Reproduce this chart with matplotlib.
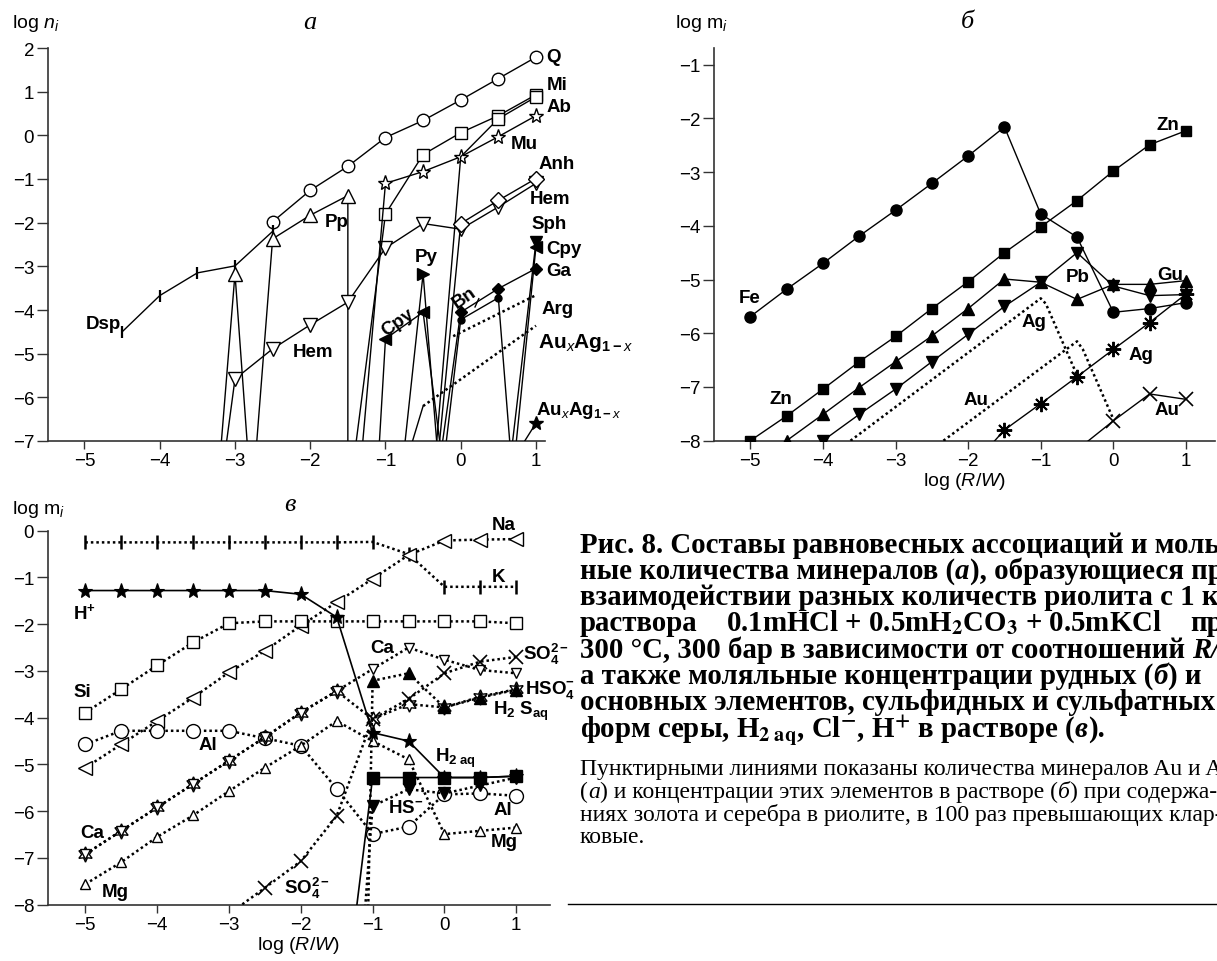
import matplotlib
matplotlib.use('Agg')
import matplotlib.pyplot as plt
from matplotlib.lines import Line2D

plt.rcParams['font.family'] = ['Liberation Sans', 'DejaVu Sans']
plt.rcParams['mathtext.fontset'] = 'custom'
plt.rcParams['mathtext.rm'] = 'Liberation Sans'
plt.rcParams['mathtext.it'] = 'Liberation Sans:italic'
plt.rcParams['mathtext.bf'] = 'Liberation Sans:bold'

# ---------------- panel a data: log n_i ----------------
A_Q_x = [-2.5, -2, -1.5, -1, -0.5, 0, 0.5, 1]
A_Q_y = [-1.98, -1.26, -0.71, -0.05, 0.34, 0.81, 1.30, 1.79]
A_Dsp_x = [-4.5, -4, -3.5, -3, -2.5]
A_Dsp_y = [-4.5, -3.67, -3.15, -2.99, -2.2]
A_Pp1_x = [-3.5, -3, -2.5]
A_Pp1_y = [-13.8, -3.17, -15.1]
A_Pp2_x = [-3, -2.5, -2, -1.5, -1.5]
A_Pp2_y = [-13.4, -2.37, -1.83, -1.38, -9.0]
A_Hem_x = [-3.5, -3, -2.5, -2, -1.5, -1, -0.5, 0, 0.5, 1]
A_Hem_y = [-12.0, -5.58, -4.89, -4.34, -3.82, -2.58, -2.02, -2.15, -1.64, -1.10]
A_Mi_x = [-1.5, -1, -0.5, 0, 0.5, 1]
A_Mi_y = [-8.5, -1.8, -0.44, 0.06, 0.45, 0.93]
A_Mu_x = [-1.5, -1, -0.5, 0, 0.5, 1]
A_Mu_y = [-10.9, -1.1, -0.83, -0.49, -0.03, 0.45]
A_Ab_x = [-0.5, 0, 0.5, 1]
A_Ab_y = [-10.7, -0.49, 0.38, 0.88]
A_Anh_x = [-0.5, 0, 0.5, 1]
A_Anh_y = [-10.9, -2.02, -1.49, -0.99]
A_Py_x = [-1, -0.5, 0]
A_Py_y = [-11.2, -3.17, -13.8]
A_Cpy_x = [-1.5, -1, -0.5, 0]
A_Cpy_y = [-19.3, -4.66, -4.05, -10.75]
A_Cpy2_x = [0.5, 1]
A_Cpy2_y = [-11.1, -2.55]
A_Sph_x = [0.5, 1]
A_Sph_y = [-9.8, -2.44]
A_Ga_x = [-0.5, 0, 0.5, 1]
A_Ga_y = [-10.2, -4.05, -3.51, -3.05]
A_Bn_x = [-0.5, 0, 0.5, 1]
A_Bn_y = [-11.5, -4.22, -3.72, -14.6]
A_Arg_x = [-0.1, 1.0]
A_Arg_y = [-4.6, -3.66]
A_AuAg_x = [-1, -0.5, 1]
A_AuAg_y = [-9.05, -6.2, -4.36]
A_AuAg2_x = [0.5, 1]
A_AuAg2_y = [-7.96, -6.59]

# ---------------- panel b data: log m_i (ore elements) ----------------
B_x = [-5, -4.5, -4, -3.5, -3, -2.5, -2, -1.5, -1, -0.5, 0, 0.5, 1]
B_Fe = [-5.69, -5.18, -4.70, -4.19, -3.71, -3.21, -2.70, -2.16, -3.78, -4.21, -5.61, -5.54, -5.43]
B_Zn = [-8.0, -7.54, -7.04, -6.53, -6.06, -5.54, -5.04, -4.50, -4.02, -3.53, -2.98, -2.49, -2.23]
B_Cu_x = [-4.5, -4, -3.5, -3, -2.5, -2, -1.5, -1, -0.5, 0, 0.5, 1]
B_Cu = [-8.0, -7.51, -7.01, -6.53, -6.05, -5.54, -4.99, -5.05, -5.37, -5.09, -5.09, -5.02]
B_Pb_x = [-4, -3.5, -3, -2.5, -2, -1.5, -1, -0.5, 0, 0.5, 1]
B_Pb = [-8.0, -7.51, -7.04, -6.53, -6.02, -5.50, -5.05, -4.50, -5.12, -5.30, -5.28]
B_Ag_x = [-2, -1.5, -1, -0.5, 0, 0.5, 1]
B_Ag = [-8.55, -7.80, -7.31, -6.81, -6.30, -5.80, -5.27]
B_Au_x = [-0.5, 0, 0.5, 1]
B_Au = [-8.17, -7.63, -7.13, -7.23]
B_Agd_x = [-3.62, -1.0, -0.93, -0.5]
B_Agd = [-8.0, -5.35, -5.45, -6.78]
B_Aud_x = [-2.34, -0.5, -0.42, 0]
B_Aud = [-8.0, -6.15, -6.3, -7.6]

# ---------------- panel c data: log m_i (solution) ----------------
C_x = [-5, -4.5, -4, -3.5, -3, -2.5, -2, -1.5, -1, -0.5, 0, 0.5, 1]
C_K = [-0.25, -0.25, -0.25, -0.25, -0.25, -0.25, -0.25, -0.25, -0.24, -0.50, -1.20, -1.20, -1.20]
C_Na = [-5.07, -4.57, -4.07, -3.57, -3.03, -2.57, -2.03, -1.53, -1.03, -0.52, -0.21, -0.19, -0.18]
C_Hp = [-1.28, -1.28, -1.28, -1.28, -1.28, -1.28, -1.36, -1.85, -4.32, -4.50, -5.28, -5.28, -5.25]
C_Si = [-3.89, -3.39, -2.88, -2.39, -1.98, -1.94, -1.94, -1.94, -1.94, -1.94, -1.94, -1.94, -1.98]
C_Al = [-4.57, -4.28, -4.28, -4.28, -4.28, -4.44, -4.60, -5.52, -6.49, -6.33, -5.64, -5.62, -5.67]
C_Ca = [-6.92, -6.42, -5.92, -5.42, -4.92, -4.42, -3.89, -3.43, -2.96, -2.50, -2.76, -2.98, -3.05]
C_HSO4 = [-6.92, -6.42, -5.92, -5.42, -4.92, -4.42, -3.89, -3.43, -4.03, -3.71, -3.78, -3.55, -3.39]
C_Mg = [-7.56, -7.09, -6.55, -6.09, -5.57, -5.07, -4.60, -4.07, -4.50, -4.89, -6.49, -6.42, -6.35]
C_SO4_x = [-3, -2.5, -2, -1.5, -1, -0.5, 0, 0.5, 1]
C_SO4 = [-8.2, -7.64, -7.07, -6.10, -4.03, -3.60, -3.05, -2.80, -2.70]
C_H2S_x = [-1.5, -1, -0.5, 0, 0.5, 1]
C_H2S = [-43.0, -3.21, -3.05, -3.78, -3.57, -3.40]
C_HS_x = [-1.5, -1, -0.5, 0, 0.5, 1]
C_HS = [-16.4, -5.89, -5.53, -5.62, -5.45, -5.28]
C_H2_x = [-1.5, -1, -0.5, 0, 0.5, 1]
C_H2 = [-11.5, -5.28, -5.28, -5.28, -5.28, -5.25]

X_TICKS = [-5, -4, -3, -2, -1, 0, 1]

W, H = 1217, 962
fig = plt.figure(figsize=(W / 100, H / 100), dpi=100)


def px_axes(l, t, r, b):
    return fig.add_axes([l / W, 1 - b / H, (r - l) / W, (b - t) / H])


def style(ax, xlim, ylim, yticks):
    ax.set_xlim(*xlim)
    ax.set_ylim(*ylim)
    for s in ('top', 'right'):
        ax.spines[s].set_visible(False)
    for s in ('left', 'bottom'):
        ax.spines[s].set_color('#333333')
        ax.spines[s].set_linewidth(1.2)
    ax.set_xticks(X_TICKS)
    ax.set_yticks(yticks)
    ax.tick_params(axis='both', direction='out', width=1.0, color='#333333',
                   labelsize=13.5, pad=2)
    ax.tick_params(axis='y', length=8)
    ax.tick_params(axis='x', length=6)
    ax.patch.set_alpha(0)


DOT = (0, (1, 1.2))


def S(ax, x, y, m=None, fc='black', ms=8, ls='-', lw=1.0, me=None, mew=1.0, z=3):
    ax.plot(x, y, linestyle=ls, color='black', lw=lw, marker=m, ms=ms, mfc=fc,
            mec='black', mew=mew, markevery=me, zorder=z)


def lab(ax, x, y, s, size=13.5, rot=0, ha='left'):
    ax.text(x, y, s, fontsize=size, fontweight='bold', ha=ha, va='center',
            rotation=rot, rotation_mode='anchor', clip_on=False, zorder=6)


# ================= panel a =================
ax = px_axes(48, 49, 545, 442)
style(ax, (-5.485, 1.12), (-7, 2), list(range(-7, 3)))
S(ax, A_Q_x, A_Q_y, 'o', 'white', ms=9)
S(ax, A_Dsp_x, A_Dsp_y, '|', ms=9, mew=1.6)
S(ax, A_Pp1_x, A_Pp1_y, '^', 'white', ms=10)
S(ax, A_Pp2_x, A_Pp2_y, '^', 'white', ms=10)
S(ax, A_Hem_x, A_Hem_y, 'v', 'white', ms=10)
S(ax, A_Mi_x, A_Mi_y, 's', 'white', ms=9)
S(ax, A_Mu_x, A_Mu_y, '*', 'white', ms=11)
S(ax, A_Ab_x, A_Ab_y, 's', 'white', ms=9, me=[2, 3])
S(ax, A_Anh_x, A_Anh_y, 'D', 'white', ms=8)
S(ax, A_Py_x, A_Py_y, '>', 'black', ms=8, me=[1])
S(ax, A_Cpy_x, A_Cpy_y, '<', 'black', ms=8)
S(ax, A_Cpy2_x, A_Cpy2_y, '<', 'black', ms=8)
S(ax, A_Sph_x, A_Sph_y, 'v', 'black', ms=8)
S(ax, A_Ga_x, A_Ga_y, 'D', 'black', ms=6)
S(ax, A_Bn_x, A_Bn_y, 'o', 'black', ms=5)
S(ax, A_Arg_x, A_Arg_y, ls=DOT, lw=1.8)
S(ax, A_AuAg_x[:2], A_AuAg_y[:2])
S(ax, A_AuAg_x[1:], A_AuAg_y[1:], ls=DOT, lw=1.8)
S(ax, A_AuAg2_x, A_AuAg2_y, '*', 'black', ms=10)
ax.plot([0.19, 0.24], [-3.93, -3.74], color='black', lw=1.0)

lab(ax, 1.14, 1.80, 'Q')
lab(ax, 1.14, 1.17, 'Mi')
lab(ax, 1.14, 0.66, 'Ab')
lab(ax, 0.67, -0.19, 'Mu')
lab(ax, 1.03, -0.65, 'Anh')
lab(ax, 0.92, -1.45, 'Hem')
lab(ax, 0.94, -2.02, 'Sph')
lab(ax, 1.14, -2.60, 'Cpy')
lab(ax, 1.14, -3.10, 'Ga')
lab(ax, 1.07, -3.97, 'Arg')
lab(ax, 1.03, -4.73, r'$\mathbf{Au}_{\mathit{x}}\mathbf{Ag}_{\mathbf{1-}\mathit{x}}$', size=15)
lab(ax, 1.00, -6.27, r'$\mathbf{Au}_{\mathit{x}}\mathbf{Ag}_{\mathbf{1-}\mathit{x}}$', size=13.5)
lab(ax, -1.81, -1.98, 'Pp')
lab(ax, -2.23, -4.94, 'Hem')
lab(ax, -0.61, -2.78, 'Py')
lab(ax, -0.83, -4.28, 'Cpy', rot=35, ha='center')
lab(ax, 0.05, -3.70, 'Bn', rot=35, ha='center')
lab(ax, -4.98, -4.32, 'Dsp')

# ================= panel b =================
bx = px_axes(714, 49, 1215, 441.7)
style(bx, (-5.5, 1.4), (-8, -0.69), list(range(-8, 0)))
S(bx, B_x, B_Fe, 'o', 'black', ms=8)
S(bx, B_x, B_Zn, 's', 'black', ms=7.5)
S(bx, B_Cu_x, B_Cu, '^', 'black', ms=8.5)
S(bx, B_Pb_x, B_Pb, 'v', 'black', ms=8.5)
S(bx, B_Ag_x, B_Ag, (8, 2, 0), 'black', ms=11, mew=1.4)
S(bx, B_Au_x, B_Au, 'x', 'black', ms=10, mew=1.2)
S(bx, B_Agd_x, B_Agd, ls=DOT, lw=1.8)
S(bx, B_Aud_x, B_Aud, ls=DOT, lw=1.8)
bx.set_xlabel('log ($R/W$)', fontsize=14, labelpad=1)

lab(bx, -5.16, -5.33, 'Fe')
lab(bx, -4.73, -7.21, 'Zn')
lab(bx, 0.60, -2.11, 'Zn')
lab(bx, -0.66, -4.94, 'Pb')
lab(bx, 0.60, -4.90, 'Gu')
lab(bx, -1.26, -5.79, 'Ag')
lab(bx, 0.21, -6.39, 'Ag')
lab(bx, -2.07, -7.23, 'Au')
lab(bx, 0.57, -7.42, 'Au')

# ================= panel c =================
cx = px_axes(48, 531.7, 550, 905.7)
style(cx, (-5.52, 1.47), (-8, 0), list(range(-8, 1)))
S(cx, C_x, C_K, '|', ms=10, ls=DOT, lw=1.8, mew=1.8)
S(cx, C_x, C_Na, '<', 'white', ms=10, ls=DOT, lw=1.8)
S(cx, C_x, C_Si, 's', 'white', ms=9, ls=DOT, lw=1.8)
S(cx, C_x, C_Al, 'o', 'white', ms=10, ls=DOT, lw=1.8)
S(cx, C_x, C_Mg, '^', 'white', ms=6.5, ls=DOT, lw=1.8)
S(cx, C_x, C_HSO4, (6, 1, 0), 'white', ms=11, ls=DOT, lw=1.8)
S(cx, C_x, C_Ca, 'v', 'white', ms=6.5, ls=DOT, lw=1.8)
S(cx, C_SO4_x, C_SO4, 'x', 'black', ms=10, ls=DOT, lw=1.8, mew=1.2)
S(cx, C_H2S_x, C_H2S, '^', 'black', ms=8, ls=DOT, lw=1.8)
S(cx, C_HS_x, C_HS, 'v', 'black', ms=9, ls=DOT, lw=1.8)
S(cx, C_H2_x, C_H2, 's', 'black', ms=9, lw=1.2)
S(cx, C_x, C_Hp, '*', 'black', ms=11, lw=1.2, mew=0.8, z=4)
cx.set_xlabel('log ($R/W$)', fontsize=14, labelpad=1)

lab(cx, 0.66, 0.14, 'Na')
lab(cx, 0.66, -0.97, 'K')
lab(cx, -5.17, -1.74, r'$\mathbf{H^{+}}$')
lab(cx, -5.17, -3.45, 'Si')
lab(cx, -3.43, -4.57, 'Al')
lab(cx, -5.07, -6.46, 'Ca')
lab(cx, -4.77, -7.72, 'Mg')
lab(cx, -1.03, -2.49, 'Ca')
lab(cx, 1.10, -2.62, r'$\mathbf{SO_4^{2-}}$')
lab(cx, 1.12, -3.39, r'$\mathbf{HSO_4^{-}}$')
lab(cx, 0.68, -3.85, r'$\mathbf{H_2\ S_{aq}}$')
lab(cx, -0.13, -4.85, r'$\mathbf{H_{2\ aq}}$')
lab(cx, -0.78, -5.92, r'$\mathbf{HS^{-}}$')
lab(cx, 0.68, -5.96, 'Al')
lab(cx, 0.64, -6.64, 'Mg')
lab(cx, -2.24, -7.64, r'$\mathbf{SO_4^{2-}}$')


# ---------------- axis titles / panel letters ----------------
def ftext(x, y, s, **kw):
    return fig.text(x / W, 1 - y / H, s, **kw)


ftext(12, 23, 'log $n_{i}$', fontsize=14, va='center', ha='left')
ftext(675, 23, 'log m$_{i}$', fontsize=14, va='center', ha='left')
ftext(12, 509, 'log m$_{i}$', fontsize=14, va='center', ha='left')
SERIF = ['Liberation Serif', 'DejaVu Serif']
ftext(310, 23, 'а', fontsize=19, style='italic', family=SERIF, ha='center', va='center')
ftext(967, 22, 'б', fontsize=19, style='italic', family=SERIF, ha='center', va='center')
ftext(290, 505, 'в', fontsize=19, style='italic', family=SERIF, ha='center', va='center')

# ---------------- caption ----------------
renderer = fig.canvas.get_renderer()


def mk(x, y, txt, size, weight, st):
    return fig.text(x / W, 1 - y / H, txt, fontsize=size, fontweight=weight,
                    fontstyle=st, family=SERIF, va='baseline', ha='left',
                    math_fontfamily='stix')


def rich(x, y, parts, size, weight):
    cur = x
    for txt, st in parts:
        t = mk(cur, y, txt, size, weight, st)
        cur += t.get_window_extent(renderer=renderer).width
    return cur


N, I = 'normal', 'italic'
CAP = 20.8
B = 'bold'
rich(580, 553, [('Рис. 8. Составы равновесных ассоциаций и моль-', N)], CAP, B)
rich(580, 579, [('ные количества минералов (', N), ('а', I), ('), образующиеся при', N)], CAP, B)
rich(580, 605, [('взаимодействии разных количеств риолита с 1 кг', N)], CAP, B)
e1 = rich(580, 631, [('раствора', N)], CAP, B)
tf = mk(0, 631, r'0.1mHCl + 0.5mH$_\mathbf{2}$CO$_\mathbf{3}$ + 0.5mKCl', CAP, B, N)
fw = tf.get_window_extent(renderer=renderer).width
tf.set_x((e1 + (1190 - e1 - fw) / 2) / W)
rich(1190, 631, [('при', N)], CAP, B)
rich(580, 658, [('300 °C, 300 бар в зависимости от соотношений ', N), ('R/W', I), (',', N)], CAP, B)
rich(580, 684, [('а также моляльные концентрации рудных (', N), ('б', I), (') и', N)], CAP, B)
rich(580, 710, [('основных элементов, сульфидных и сульфатных', N)], CAP, B)
rich(580, 737, [(r'форм серы, H$_\mathbf{2\ aq}$, Cl$^\mathbf{-}$, H$^\mathbf{+}$ в растворе (', N),
                ('в', I), (').', N)], CAP, B)

SM = 17
rich(580, 775, [('Пунктирными линиями показаны количества минералов Au и Ag', N)], SM, 'normal')
rich(580, 798, [('(', N), ('а', I), (') и концентрации этих элементов в растворе (', N), ('б', I),
                (') при содержа-', N)], SM, 'normal')
rich(580, 821, [('ниях золота и серебра в риолите, в 100 раз превышающих клар-', N)], SM, 'normal')
rich(580, 843, [('ковые.', N)], SM, 'normal')

fig.add_artist(Line2D([568 / W, 1.0], [1 - 905 / H, 1 - 905 / H], transform=fig.transFigure,
                      color='black', lw=1.0))

fig.savefig('out.png', dpi=100)
